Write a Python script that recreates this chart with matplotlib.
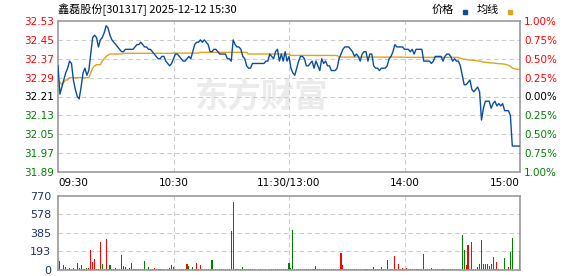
import matplotlib
matplotlib.use("Agg")
import matplotlib.pyplot as plt
from matplotlib.lines import Line2D

# ---- data (one value per minute, 09:30 .. 15:00) ----
price = [
    32.34, 32.22, 32.25, 32.28, 32.31, 32.33, 32.36, 32.35, 32.28, 32.24,
    32.21, 32.20, 32.25, 32.31, 32.33, 32.30, 32.32, 32.39, 32.46, 32.47,
    32.46, 32.42, 32.45, 32.46, 32.48, 32.51, 32.50, 32.47, 32.45, 32.44,
    32.43, 32.42, 32.41, 32.40, 32.40, 32.41, 32.41, 32.41, 32.41, 32.41,
    32.42, 32.43, 32.43, 32.44, 32.43, 32.42, 32.42, 32.41, 32.41, 32.40,
    32.39, 32.38, 32.37, 32.37, 32.38, 32.38, 32.36, 32.35, 32.34, 32.35,
    32.37, 32.39, 32.39, 32.38, 32.37, 32.36, 32.36, 32.37, 32.38, 32.37,
    32.40, 32.43, 32.44, 32.44, 32.45, 32.44, 32.45, 32.44, 32.43, 32.40,
    32.40, 32.41, 32.41, 32.40, 32.39, 32.39, 32.39, 32.39, 32.37, 32.37,
    32.36, 32.45, 32.43, 32.42, 32.42, 32.41, 32.38, 32.37, 32.34, 32.33,
    32.33, 32.35, 32.35, 32.35, 32.35, 32.35, 32.35, 32.35, 32.36, 32.36,
    32.39, 32.38, 32.37, 32.40, 32.41, 32.36, 32.39, 32.36, 32.40, 32.36,
    32.38, 32.33, 32.31, 32.30, 32.33, 32.36, 32.38, 32.38, 32.37, 32.34,
    32.34, 32.35, 32.36, 32.33, 32.36, 32.34, 32.32, 32.37, 32.35, 32.36,
    32.34, 32.34, 32.32, 32.32, 32.32, 32.33, 32.37, 32.39, 32.41, 32.42,
    32.42, 32.42, 32.41, 32.40, 32.38, 32.39, 32.38, 32.36, 32.39, 32.40,
    32.40, 32.36, 32.39, 32.39, 32.34, 32.33, 32.33, 32.32, 32.33, 32.33,
    32.33, 32.34, 32.37, 32.38, 32.40, 32.43, 32.42, 32.42, 32.42, 32.42,
    32.41, 32.41, 32.41, 32.40, 32.41, 32.39, 32.41, 32.41, 32.41, 32.41,
    32.36, 32.36, 32.36, 32.36, 32.35, 32.36, 32.38, 32.38, 32.38, 32.38,
    32.36, 32.38, 32.39, 32.39, 32.38, 32.36, 32.37, 32.36, 32.36, 32.34,
    32.30, 32.26, 32.26, 32.27, 32.28, 32.24, 32.23, 32.24, 32.25, 32.23,
    32.11, 32.16, 32.19, 32.19, 32.19, 32.16, 32.18, 32.19, 32.17, 32.18,
    32.17, 32.18, 32.15, 32.15, 32.15, 32.13, 32.00, 32.00, 32.00, 32.00,
    32.00,
]

avg_price = [
    32.280, 32.270, 32.260, 32.270, 32.280, 32.280, 32.290, 32.290, 32.290, 32.290,
    32.290, 32.290, 32.290, 32.290, 32.290, 32.290, 32.290, 32.310, 32.330, 32.340,
    32.345, 32.345, 32.345, 32.360, 32.370, 32.380, 32.385, 32.390, 32.390, 32.390,
    32.390, 32.390, 32.390, 32.390, 32.393, 32.393, 32.393, 32.393, 32.393, 32.393,
    32.393, 32.393, 32.393, 32.393, 32.393, 32.393, 32.393, 32.393, 32.393, 32.393,
    32.393, 32.393, 32.393, 32.393, 32.393, 32.393, 32.393, 32.393, 32.393, 32.393,
    32.394, 32.394, 32.394, 32.394, 32.394, 32.394, 32.394, 32.394, 32.394, 32.394,
    32.394, 32.394, 32.394, 32.394, 32.397, 32.397, 32.397, 32.397, 32.397, 32.397,
    32.397, 32.397, 32.397, 32.397, 32.397, 32.397, 32.397, 32.397, 32.397, 32.397,
    32.397, 32.397, 32.397, 32.397, 32.397, 32.397, 32.397, 32.397, 32.397, 32.390,
    32.390, 32.390, 32.390, 32.390, 32.390, 32.390, 32.390, 32.390, 32.390, 32.390,
    32.390, 32.390, 32.390, 32.390, 32.390, 32.390, 32.390, 32.390, 32.390, 32.390,
    32.390, 32.384, 32.384, 32.384, 32.384, 32.384, 32.384, 32.384, 32.384, 32.384,
    32.384, 32.384, 32.384, 32.384, 32.384, 32.384, 32.384, 32.384, 32.384, 32.384,
    32.384, 32.384, 32.384, 32.384, 32.384, 32.384, 32.377, 32.377, 32.377, 32.377,
    32.377, 32.377, 32.377, 32.377, 32.377, 32.377, 32.377, 32.377, 32.377, 32.377,
    32.377, 32.377, 32.377, 32.377, 32.377, 32.377, 32.377, 32.377, 32.377, 32.377,
    32.377, 32.377, 32.377, 32.377, 32.377, 32.377, 32.377, 32.377, 32.377, 32.377,
    32.376, 32.376, 32.376, 32.376, 32.376, 32.376, 32.376, 32.376, 32.376, 32.376,
    32.376, 32.376, 32.376, 32.376, 32.376, 32.376, 32.376, 32.376, 32.376, 32.376,
    32.376, 32.376, 32.376, 32.376, 32.376, 32.376, 32.376, 32.376, 32.375, 32.372,
    32.370, 32.368, 32.367, 32.366, 32.365, 32.364, 32.363, 32.362, 32.361, 32.360,
    32.358, 32.356, 32.355, 32.354, 32.353, 32.352, 32.352, 32.351, 32.350, 32.349,
    32.349, 32.348, 32.347, 32.345, 32.342, 32.338, 32.331, 32.328, 32.326, 32.325,
    32.324,
]

volume = [
    0, 94, 10, 49, 28, 14, 20, 14, 20, 10,
    73, 17, 52, 10, 14, 20, 20, 208, 83, 115,
    10, 10, 291, 62, 10, 323, 10, 52, 10, 10,
    20, 10, 14, 156, 42, 31, 10, 17, 73, 10,
    7, 7, 7, 10, 10, 94, 10, 28, 14, 10,
    20, 10, 10, 10, 10, 10, 0, 10, 24, 49,
    28, 10, 0, 10, 10, 10, 10, 62, 42, 0,
    28, 10, 73, 10, 52, 10, 10, 10, 10, 10,
    104, 10, 10, 10, 10, 10, 10, 10, 10, 10,
    406, 708, 10, 10, 10, 10, 28, 10, 10, 10,
    10, 10, 10, 0, 10, 10, 10, 0, 10, 0,
    10, 10, 10, 10, 10, 10, 10, 10, 10, 10,
    69, 21, 416, 10, 10, 10, 10, 10, 10, 10,
    10, 10, 10, 10, 42, 10, 10, 10, 10, 10,
    10, 10, 10, 10, 10, 10, 10, 177, 52, 10,
    10, 10, 10, 10, 10, 10, 10, 10, 10, 10,
    10, 10, 10, 10, 31, 10, 10, 14, 31, 10,
    10, 104, 10, 10, 10, 146, 10, 62, 10, 21,
    10, 21, 10, 10, 10, 10, 10, 10, 10, 10,
    167, 10, 10, 10, 21, 10, 10, 10, 10, 10,
    10, 10, 10, 10, 10, 10, 10, 10, 10, 10,
    364, 208, 52, 260, 10, 291, 10, 10, 28, 62,
    312, 62, 62, 62, 42, 62, 135, 10, 83, 14,
    14, 10, 125, 10, 31, 187, 333, 0, 0, 0,
    198,
]

# r = up minute (red bar), g = down minute (green bar)
direction = (
    "rrrgrgrggg" "grrgggrrrr" "ggrgrrgggr" "rgggrgrgrr" "grggrgrggg"
    "rgggrrrggr" "rrrggggrgg" "grrgrggrgr" "grrgrgrrgg" "grgggrgggg"
    "gggrrrgrrr" "grgrgrgrgg" "gggrrrrgrr" "rgrggrrrgg" "ggrrrrrrrr"
    "rrggrrrrgr" "rgrgggggrr" "rgrrrrgrgr" "grgggrgrrr" "grrgggrrrr"
    "rrrrrrrrgg" "ggrrggggrg" "ggrrgrgrrg" "rggrrggrrr" "r"
)

price_ticks = [32.53, 32.45, 32.37, 32.29, 32.21, 32.13, 32.05, 31.97, 31.89]
pct_labels = ["1.00%", "0.75%", "0.50%", "0.25%", "0.00%",
              "0.25%", "0.50%", "0.75%", "1.00%"]
vol_ticks = [0, 193, 385, 578, 770]
time_pos = [0, 60, 120, 180, 240]
time_labels = ["09:30", "10:30", "11:30/13:00", "14:00", "15:00"]

RED = "#ff0000"
GREEN = "#008000"
BLUE = "#0a4ea0"
GOLD = "#e0a31e"
FRAME = "#999999"
GRID = "#cccccc"

plt.rcParams["font.family"] = ["DejaVu Sans", "Noto Sans CJK SC"]

W, H = 578, 276
fig = plt.figure(figsize=(W / 100, H / 100), dpi=100)


def box(x0, y0, x1, y1):
    return [x0 / W, 1 - y1 / H, (x1 - x0) / W, (y1 - y0) / H]


minutes = list(range(len(price)))

# ---- price panel ----
ax = fig.add_axes(box(58, 21, 520, 172))
ax.text(0.295, 0.49, "东方财富", transform=ax.transAxes, ha="left", va="center",
        fontsize=24, fontweight="bold", color="#ebebeb",
        family=["Noto Sans CJK SC"], zorder=0)
ax.plot(minutes, price, color=BLUE, lw=1.0, zorder=3)
ax.plot(minutes, avg_price, color=GOLD, lw=1.0, zorder=2)
ax.set_xlim(0, 240)
ax.set_ylim(price_ticks[-1], price_ticks[0])
ax.set_yticks(price_ticks)
ax.set_yticklabels([f"{v:.2f}" for v in price_ticks])
for lab, v in zip(ax.get_yticklabels(), price_ticks):
    lab.set_color(RED if v > 32.21 else ("#000000" if v == 32.21 else GREEN))
ax.set_xticks(time_pos)
ax.set_xticklabels(time_labels)
xl = ax.get_xticklabels()
xl[0].set_ha("left")
xl[-1].set_ha("right")
ax.tick_params(length=0, labelsize=7.5, pad=3)
ax.tick_params(axis="x", pad=4)
for v in price_ticks[1:-1]:
    ax.axhline(v, color=GRID, lw=0.8, ls=(0, (4, 3)), zorder=1)
for t in time_pos[1:-1]:
    ax.axvline(t, color=GRID, lw=0.8, ls=(0, (4, 3)), zorder=1)
for s in ax.spines.values():
    s.set_color(FRAME)
    s.set_linewidth(1.2)

axr = ax.twinx()
axr.set_ylim(price_ticks[-1], price_ticks[0])
axr.set_yticks(price_ticks)
axr.set_yticklabels(pct_labels)
for lab, v in zip(axr.get_yticklabels(), price_ticks):
    lab.set_color(RED if v > 32.21 else ("#000000" if v == 32.21 else GREEN))
axr.tick_params(length=0, labelsize=7.5, pad=3)
for s in axr.spines.values():
    s.set_visible(False)

# ---- volume panel ----
axv = fig.add_axes(box(58, 196, 520, 270))
colors = [RED if d == "r" else GREEN for d in direction]
axv.bar(minutes, volume, width=0.55, color=colors, linewidth=0, zorder=2)
axv.set_xlim(0, 240)
axv.set_ylim(0, 770)
axv.set_yticks(vol_ticks)
axv.set_yticklabels([str(v) for v in vol_ticks], color="#1c3560")
axv.set_xticks([])
axv.tick_params(length=0, labelsize=8, pad=5)
for v in vol_ticks[1:-1]:
    axv.axhline(v, color=GRID, lw=0.8, ls=(0, (4, 3)), zorder=1)
for t in time_pos[1:-1]:
    axv.axvline(t, color=GRID, lw=0.8, ls=(0, (4, 3)), zorder=1)
for s in axv.spines.values():
    s.set_color(FRAME)
    s.set_linewidth(1.2)

# ---- header ----
fig.text(58 / W, 1 - 10 / H, "鑫磊股份[301317] 2025-12-12 15:30", ha="left",
         va="center", fontsize=8, family=["Noto Sans CJK SC", "DejaVu Sans"])
fig.text(432 / W, 1 - 10 / H, "价格", ha="left", va="center", fontsize=8,
         family=["Noto Sans CJK SC"])
fig.text(477 / W, 1 - 10 / H, "均线", ha="left", va="center", fontsize=8,
         family=["Noto Sans CJK SC"])
fig.add_artist(Line2D([465 / W], [1 - 11.5 / H], marker="s", ms=2.5, color=BLUE,
                      transform=fig.transFigure))
fig.add_artist(Line2D([510 / W], [1 - 11.5 / H], marker="s", ms=2.5, color=GOLD,
                      transform=fig.transFigure))

fig.savefig("out.png", dpi=100)
